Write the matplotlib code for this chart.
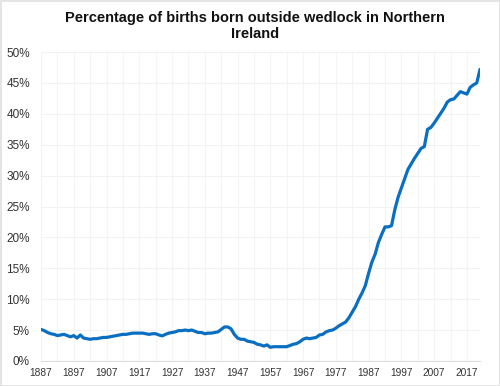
import numpy as np
import matplotlib
matplotlib.use("Agg")
import matplotlib.pyplot as plt

plt.rcParams['font.family'] = ['Liberation Sans', 'DejaVu Sans']

first_year = 1887
# percentage of births outside marriage, one value per year 1887-2021
pct = [5.1, 4.9, 4.6, 4.4, 4.3, 4.1, 4.2, 4.3, 4.1, 3.9,
       4.1, 3.7, 4.2, 3.7, 3.6, 3.5, 3.6, 3.6, 3.7, 3.8,
       3.8, 3.9, 4.0, 4.1, 4.2, 4.3, 4.3, 4.4, 4.5, 4.5,
       4.5, 4.5, 4.4, 4.3, 4.4, 4.4, 4.2, 4.05, 4.3, 4.5,
       4.6, 4.7, 4.9, 4.9, 5.0, 4.9, 5.0, 4.8, 4.6, 4.6,
       4.4, 4.5, 4.5, 4.6, 4.7, 5.1, 5.5, 5.5, 5.2, 4.3,
       3.7, 3.5, 3.5, 3.2, 3.1, 3.0, 2.7, 2.6, 2.4, 2.6,
       2.2, 2.3, 2.3, 2.3, 2.3, 2.3, 2.5, 2.7, 2.8, 3.1,
       3.5, 3.7, 3.6, 3.7, 3.8, 4.2, 4.3, 4.7, 4.9, 5.0,
       5.3, 5.7, 6.0, 6.3, 7.0, 7.9, 8.8, 10.0, 11.0, 12.2,
       14.2, 16.0, 17.3, 19.2, 20.5, 21.7, 21.7, 21.9, 24.5, 26.5,
       28.0, 29.5, 31.0, 31.9, 32.8, 33.6, 34.4, 34.7, 37.5, 37.8,
       38.5, 39.3, 40.1, 40.9, 41.9, 42.3, 42.4, 43.0, 43.6, 43.4,
       43.2, 44.3, 44.7, 45.0, 47.2]
years = np.arange(first_year, first_year + len(pct))
tick_years = list(range(1887, 2018, 10))
y_ticks = list(range(0, 51, 5))

fig = plt.figure(figsize=(5, 3.86), dpi=100)
fig.patch.set_edgecolor('#e4e4e4')
fig.patch.set_linewidth(1)
ax = fig.add_axes([0.082, 0.065, 0.878, 0.80])

ax.plot(years, pct, color='#0b6fc1', lw=2.3, solid_capstyle='round', zorder=3)

ax.set_xlim(years[0], years[-1])
ax.set_ylim(0, 50)
ax.set_xticks(tick_years)
ax.set_xticklabels([str(y) for y in tick_years], fontsize=7.3, color='#333333')
ax.set_yticks(y_ticks)
ax.set_yticklabels([f'{v}%' for v in y_ticks], fontsize=8.5, color='#333333')
ax.set_xticks(np.arange(1887, 2022, 5), minor=True)
ax.tick_params(which='both', length=0, pad=8)
ax.tick_params(axis='x', pad=5)

ax.grid(which='major', axis='y', color='#f2f2f2', lw=0.8)
ax.grid(which='both', axis='x', color='#f4f4f4', lw=0.8)
for s in ['top', 'right', 'left']:
    ax.spines[s].set_visible(False)
ax.spines['bottom'].set_color('#dddddd')

fig.text(0.51, 0.933, 'Percentage of births born outside wedlock in Northern\nIreland',
         ha='center', va='center', fontsize=10.5, fontweight='bold', color='#111111',
         linespacing=1.2)

fig.savefig('out.png', dpi=100)
